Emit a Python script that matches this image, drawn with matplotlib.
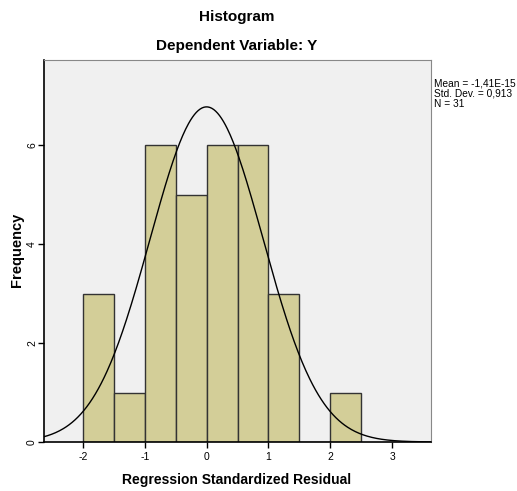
import numpy as np
import matplotlib.pyplot as plt

# Histogram of regression standardized residuals (SPSS style)
bin_edges = [-2.0, -1.5, -1.0, -0.5, 0.0, 0.5, 1.0, 1.5, 2.0, 2.5]
counts = [3, 1, 6, 5, 6, 6, 3, 0, 1]
mean = -1.41e-15
std = 0.913
n = 31

BG = '#F0F0F0'
BAR = '#D3CE98'

plt.rcParams['font.family'] = ['Liberation Sans', 'DejaVu Sans']
plt.rcParams['axes.unicode_minus'] = False

fig = plt.figure(figsize=(5.17, 4.91), dpi=100)
ax = fig.add_axes([44 / 517, 1 - 442 / 491, (431 - 44) / 517, (442 - 60) / 491])
ax.set_facecolor(BG)

widths = np.diff(bin_edges)
ax.bar(bin_edges[:-1], counts, width=widths, align='edge', color=BAR,
       edgecolor='#333333', linewidth=1.0, zorder=2)

# normal curve scaled to counts
xs = np.linspace(-2.63, 3.63, 400)
bw = widths[0]
ys = n * bw / (std * np.sqrt(2 * np.pi)) * np.exp(-0.5 * ((xs - mean) / std) ** 2)
ax.plot(xs, ys, color='black', linewidth=1.0, zorder=3)

ax.set_xlim(-2.63, 3.63)
ax.set_ylim(0, 7.72)
ax.set_xticks([-2, -1, 0, 1, 2, 3])
ax.set_yticks([0, 2, 4, 6])
ax.tick_params(axis='both', labelsize=7.5, length=4, width=1, color='black', pad=3)
ax.tick_params(axis='y', pad=1)
for lbl in ax.get_yticklabels():
    lbl.set_rotation(90)
    lbl.set_va('center')

ax.spines['left'].set_color('black')
ax.spines['bottom'].set_color('black')
ax.spines['top'].set_color('#888888')
ax.spines['right'].set_color('#888888')
ax.spines['left'].set_linewidth(1.2)
ax.spines['bottom'].set_linewidth(1.2)

fig.text(237 / 517, 1 - 480 / 491, 'Regression Standardized Residual', ha='center', va='center',
         fontsize=10, fontweight='bold')
fig.text(17 / 517, 1 - 250 / 491, 'Frequency', ha='center', va='center', rotation=90,
         fontsize=10.5, fontweight='bold')

fig.text(237 / 517, 1 - 17 / 491, 'Histogram', ha='center', va='center', fontsize=11, fontweight='bold')
fig.text(237 / 517, 1 - 46 / 491, 'Dependent Variable: Y', ha='center', va='center', fontsize=11, fontweight='bold')

stats = 'Mean = -1,41E-15\nStd. Dev. = 0,913\nN = 31'
fig.text(434 / 517, 1 - 79 / 491, stats, ha='left', va='top', fontsize=7.3, linespacing=1.0)

fig.savefig('out.png', dpi=100, facecolor='white')
